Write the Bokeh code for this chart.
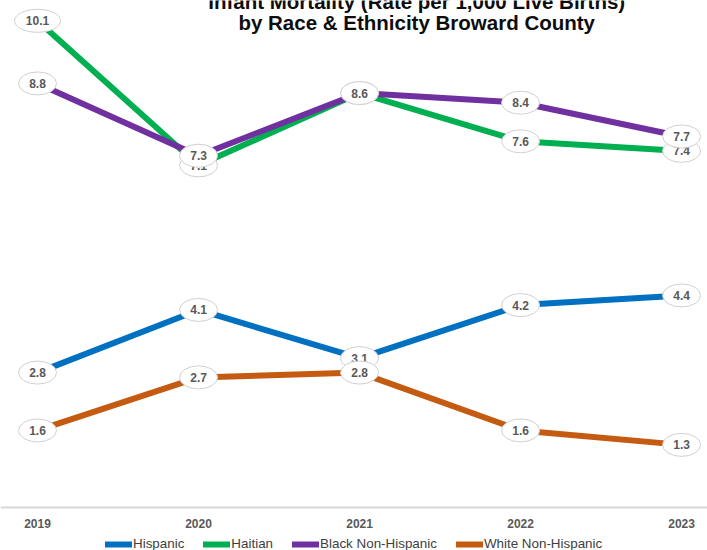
from bokeh.plotting import figure
from bokeh.models import Legend, LegendItem, Label, FixedTicker, ColumnDataSource, Range1d
from bokeh.embed import file_html
from bokeh.resources import INLINE

years = [2019, 2020, 2021, 2022, 2023]
year_labels = ["2019", "2020", "2021", "2022", "2023"]
series_names = ["Hispanic", "Haitian", "Black Non-Hispanic", "White Non-Hispanic"]
hispanic = [2.8, 4.1, 3.1, 4.2, 4.4]
haitian = [10.1, 7.1, 8.6, 7.6, 7.4]
black_nh = [8.8, 7.3, 8.6, 8.4, 7.7]
white_nh = [1.6, 2.7, 2.8, 1.6, 1.3]
colors = ["#0070C0", "#00B050", "#7030A0", "#C55A11"]
title_lines = ["Infant Mortality (Rate per 1,000 Live Births)",
               "by Race & Ethnicity Broward County"]

values = [hispanic, haitian, black_nh, white_nh]

p = figure(width=707, height=550, output_backend="svg", toolbar_location=None,
           x_range=Range1d(2018.770, 2023.161), y_range=Range1d(-0.892, 10.521),
           min_border_left=0, min_border_right=0, min_border_top=0, min_border_bottom=0,
           background_fill_color="white", border_fill_color="white")
p.outline_line_color = None
p.grid.visible = False
p.yaxis.visible = False

ax = p.xaxis[0]
ax.fixed_location = 0
ax.ticker = FixedTicker(ticks=years)
ax.major_label_overrides = {y: l for y, l in zip(years, year_labels)}
ax.axis_line_color = "#D9D9D9"
ax.axis_line_width = 2
ax.major_tick_line_color = None
ax.minor_tick_line_color = None
ax.major_label_standoff = 5
ax.major_label_text_font = "Liberation Sans"
ax.major_label_text_font_style = "bold"
ax.major_label_text_font_size = "12px"
ax.major_label_text_color = "#595959"

renderers = []
for vals, c in zip(values, colors):
    r = p.line(years, vals, line_color=c, line_width=6, line_join="round", line_cap="round")
    renderers.append(r)

for vals in values:
    txt = ["%.1f" % v for v in vals]
    src = ColumnDataSource(dict(x=years, y=vals, t=txt,
                                w=[14 + 8 * len(s) for s in txt]))
    p.ellipse(x="x", y="y", width="w", height=23, width_units="screen", height_units="screen",
              source=src, fill_color="white", line_color="#D0D0D0", line_width=1)
    p.text(x="x", y="y", text="t", source=src, text_align="center", text_baseline="middle",
           text_font_size="12px", text_font_style="bold", text_color="#595959",
           text_font={"value": "Liberation Sans"})

for i, (line, yv) in enumerate(zip(title_lines, [10.50, 10.065])):
    p.add_layout(Label(x=2021.355, y=yv, text=line, text_align="center",
                       text_baseline="alphabetic", text_font="Liberation Sans",
                       text_font_style="bold", text_font_size="20.5px", text_color="#0D0D0D"))

legend = Legend(items=[LegendItem(label=n, renderers=[r]) for n, r in zip(series_names, renderers)],
                orientation="horizontal", location=(105, -1),
                glyph_width=27, glyph_height=12, label_standoff=1, spacing=19,
                padding=0, margin=0, border_line_color=None, background_fill_alpha=0,
                label_text_font="Liberation Sans", label_text_font_size="13.4px",
                label_text_color="#404040", label_height=12)
p.add_layout(legend, "center")

open("out.html", "w").write(file_html(p, INLINE))
